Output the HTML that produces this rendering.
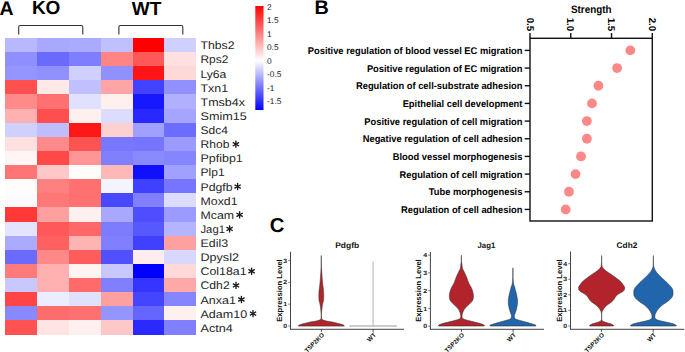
<!DOCTYPE html>
<html><head><meta charset="utf-8"><style>
html,body{margin:0;padding:0;background:#fff;width:685px;height:352px;overflow:hidden}
svg{display:block}
</style></head><body>
<svg width="685" height="352" viewBox="0 0 685 352" text-rendering="geometricPrecision">
<rect width="685" height="352" fill="#fff"/>
<g shape-rendering="crispEdges">
<rect x="5.00" y="38.00" width="31.93" height="14.17" fill="#b8b8ff"/>
<rect x="36.88" y="38.00" width="31.93" height="14.17" fill="#a8a8ff"/>
<rect x="68.77" y="38.00" width="31.93" height="14.17" fill="#aaaaff"/>
<rect x="100.65" y="38.00" width="31.93" height="14.17" fill="#c0c0ff"/>
<rect x="132.53" y="38.00" width="31.93" height="14.17" fill="#ff0000"/>
<rect x="164.42" y="38.00" width="31.93" height="14.17" fill="#d0d0ff"/>
<rect x="5.00" y="52.12" width="31.93" height="14.17" fill="#8f8fff"/>
<rect x="36.88" y="52.12" width="31.93" height="14.17" fill="#6a6aff"/>
<rect x="68.77" y="52.12" width="31.93" height="14.17" fill="#7e7eff"/>
<rect x="100.65" y="52.12" width="31.93" height="14.17" fill="#ff8585"/>
<rect x="132.53" y="52.12" width="31.93" height="14.17" fill="#ff5858"/>
<rect x="164.42" y="52.12" width="31.93" height="14.17" fill="#ffe0e0"/>
<rect x="5.00" y="66.24" width="31.93" height="14.17" fill="#9595ff"/>
<rect x="36.88" y="66.24" width="31.93" height="14.17" fill="#9090ff"/>
<rect x="68.77" y="66.24" width="31.93" height="14.17" fill="#d0d0ff"/>
<rect x="100.65" y="66.24" width="31.93" height="14.17" fill="#9090ff"/>
<rect x="132.53" y="66.24" width="31.93" height="14.17" fill="#ff1515"/>
<rect x="164.42" y="66.24" width="31.93" height="14.17" fill="#ffd8d8"/>
<rect x="5.00" y="80.36" width="31.93" height="14.17" fill="#ff5050"/>
<rect x="36.88" y="80.36" width="31.93" height="14.17" fill="#ffe8e8"/>
<rect x="68.77" y="80.36" width="31.93" height="14.17" fill="#c0c0ff"/>
<rect x="100.65" y="80.36" width="31.93" height="14.17" fill="#ffa5a5"/>
<rect x="132.53" y="80.36" width="31.93" height="14.17" fill="#4242ff"/>
<rect x="164.42" y="80.36" width="31.93" height="14.17" fill="#9090ff"/>
<rect x="5.00" y="94.48" width="31.93" height="14.17" fill="#ff8a8a"/>
<rect x="36.88" y="94.48" width="31.93" height="14.17" fill="#ff7070"/>
<rect x="68.77" y="94.48" width="31.93" height="14.17" fill="#e0e0ff"/>
<rect x="100.65" y="94.48" width="31.93" height="14.17" fill="#fff0f0"/>
<rect x="132.53" y="94.48" width="31.93" height="14.17" fill="#1818ff"/>
<rect x="164.42" y="94.48" width="31.93" height="14.17" fill="#b0b0ff"/>
<rect x="5.00" y="108.60" width="31.93" height="14.17" fill="#ffb0b0"/>
<rect x="36.88" y="108.60" width="31.93" height="14.17" fill="#ff4e4e"/>
<rect x="68.77" y="108.60" width="31.93" height="14.17" fill="#fff0f0"/>
<rect x="100.65" y="108.60" width="31.93" height="14.17" fill="#dcdcff"/>
<rect x="132.53" y="108.60" width="31.93" height="14.17" fill="#2828ff"/>
<rect x="164.42" y="108.60" width="31.93" height="14.17" fill="#a5a5ff"/>
<rect x="5.00" y="122.71" width="31.93" height="14.17" fill="#d0d0ff"/>
<rect x="36.88" y="122.71" width="31.93" height="14.17" fill="#bdbdff"/>
<rect x="68.77" y="122.71" width="31.93" height="14.17" fill="#ff1818"/>
<rect x="100.65" y="122.71" width="31.93" height="14.17" fill="#ffd0d0"/>
<rect x="132.53" y="122.71" width="31.93" height="14.17" fill="#a0a0ff"/>
<rect x="164.42" y="122.71" width="31.93" height="14.17" fill="#6c6cff"/>
<rect x="5.00" y="136.83" width="31.93" height="14.17" fill="#ffe0e0"/>
<rect x="36.88" y="136.83" width="31.93" height="14.17" fill="#ff8a8a"/>
<rect x="68.77" y="136.83" width="31.93" height="14.17" fill="#ff5252"/>
<rect x="100.65" y="136.83" width="31.93" height="14.17" fill="#7878ff"/>
<rect x="132.53" y="136.83" width="31.93" height="14.17" fill="#7575ff"/>
<rect x="164.42" y="136.83" width="31.93" height="14.17" fill="#9a9aff"/>
<rect x="5.00" y="150.95" width="31.93" height="14.17" fill="#fff5f5"/>
<rect x="36.88" y="150.95" width="31.93" height="14.17" fill="#ff4848"/>
<rect x="68.77" y="150.95" width="31.93" height="14.17" fill="#ff9595"/>
<rect x="100.65" y="150.95" width="31.93" height="14.17" fill="#8080ff"/>
<rect x="132.53" y="150.95" width="31.93" height="14.17" fill="#8a8aff"/>
<rect x="164.42" y="150.95" width="31.93" height="14.17" fill="#8585ff"/>
<rect x="5.00" y="165.07" width="31.93" height="14.17" fill="#ff7575"/>
<rect x="36.88" y="165.07" width="31.93" height="14.17" fill="#ffc8c8"/>
<rect x="68.77" y="165.07" width="31.93" height="14.17" fill="#fffcfa"/>
<rect x="100.65" y="165.07" width="31.93" height="14.17" fill="#ffb8b8"/>
<rect x="132.53" y="165.07" width="31.93" height="14.17" fill="#1010ff"/>
<rect x="164.42" y="165.07" width="31.93" height="14.17" fill="#a0a0ff"/>
<rect x="5.00" y="179.19" width="31.93" height="14.17" fill="#fffcfc"/>
<rect x="36.88" y="179.19" width="31.93" height="14.17" fill="#ff8080"/>
<rect x="68.77" y="179.19" width="31.93" height="14.17" fill="#ff7070"/>
<rect x="100.65" y="179.19" width="31.93" height="14.17" fill="#f4f4ff"/>
<rect x="132.53" y="179.19" width="31.93" height="14.17" fill="#4040ff"/>
<rect x="164.42" y="179.19" width="31.93" height="14.17" fill="#7575ff"/>
<rect x="5.00" y="193.31" width="31.93" height="14.17" fill="#fbfbff"/>
<rect x="36.88" y="193.31" width="31.93" height="14.17" fill="#ff7878"/>
<rect x="68.77" y="193.31" width="31.93" height="14.17" fill="#ff7070"/>
<rect x="100.65" y="193.31" width="31.93" height="14.17" fill="#4848ff"/>
<rect x="132.53" y="193.31" width="31.93" height="14.17" fill="#8080ff"/>
<rect x="164.42" y="193.31" width="31.93" height="14.17" fill="#dcdcff"/>
<rect x="5.00" y="207.43" width="31.93" height="14.17" fill="#ff3838"/>
<rect x="36.88" y="207.43" width="31.93" height="14.17" fill="#ffa0a0"/>
<rect x="68.77" y="207.43" width="31.93" height="14.17" fill="#fff0f0"/>
<rect x="100.65" y="207.43" width="31.93" height="14.17" fill="#a8a8ff"/>
<rect x="132.53" y="207.43" width="31.93" height="14.17" fill="#4e4eff"/>
<rect x="164.42" y="207.43" width="31.93" height="14.17" fill="#9a9aff"/>
<rect x="5.00" y="221.55" width="31.93" height="14.17" fill="#e4e4ff"/>
<rect x="36.88" y="221.55" width="31.93" height="14.17" fill="#ff5858"/>
<rect x="68.77" y="221.55" width="31.93" height="14.17" fill="#ff6868"/>
<rect x="100.65" y="221.55" width="31.93" height="14.17" fill="#7c7cff"/>
<rect x="132.53" y="221.55" width="31.93" height="14.17" fill="#5858ff"/>
<rect x="164.42" y="221.55" width="31.93" height="14.17" fill="#b5b5ff"/>
<rect x="5.00" y="235.67" width="31.93" height="14.17" fill="#aaaaff"/>
<rect x="36.88" y="235.67" width="31.93" height="14.17" fill="#ff6060"/>
<rect x="68.77" y="235.67" width="31.93" height="14.17" fill="#ffb4b4"/>
<rect x="100.65" y="235.67" width="31.93" height="14.17" fill="#8080ff"/>
<rect x="132.53" y="235.67" width="31.93" height="14.17" fill="#4040ff"/>
<rect x="164.42" y="235.67" width="31.93" height="14.17" fill="#ffa0a0"/>
<rect x="5.00" y="249.79" width="31.93" height="14.17" fill="#6a6aff"/>
<rect x="36.88" y="249.79" width="31.93" height="14.17" fill="#ff8888"/>
<rect x="68.77" y="249.79" width="31.93" height="14.17" fill="#ff5c5c"/>
<rect x="100.65" y="249.79" width="31.93" height="14.17" fill="#5050ff"/>
<rect x="132.53" y="249.79" width="31.93" height="14.17" fill="#ffecec"/>
<rect x="164.42" y="249.79" width="31.93" height="14.17" fill="#d8d8ff"/>
<rect x="5.00" y="263.90" width="31.93" height="14.17" fill="#ff7a7a"/>
<rect x="36.88" y="263.90" width="31.93" height="14.17" fill="#ffb0b0"/>
<rect x="68.77" y="263.90" width="31.93" height="14.17" fill="#fff4f2"/>
<rect x="100.65" y="263.90" width="31.93" height="14.17" fill="#c8c8ff"/>
<rect x="132.53" y="263.90" width="31.93" height="14.17" fill="#0000ff"/>
<rect x="164.42" y="263.90" width="31.93" height="14.17" fill="#ffd8d8"/>
<rect x="5.00" y="278.02" width="31.93" height="14.17" fill="#c8c8ff"/>
<rect x="36.88" y="278.02" width="31.93" height="14.17" fill="#ffb0b0"/>
<rect x="68.77" y="278.02" width="31.93" height="14.17" fill="#ff6a6a"/>
<rect x="100.65" y="278.02" width="31.93" height="14.17" fill="#8080ff"/>
<rect x="132.53" y="278.02" width="31.93" height="14.17" fill="#3535ff"/>
<rect x="164.42" y="278.02" width="31.93" height="14.17" fill="#ffa8a8"/>
<rect x="5.00" y="292.14" width="31.93" height="14.17" fill="#ff4545"/>
<rect x="36.88" y="292.14" width="31.93" height="14.17" fill="#ececff"/>
<rect x="68.77" y="292.14" width="31.93" height="14.17" fill="#e0e0ff"/>
<rect x="100.65" y="292.14" width="31.93" height="14.17" fill="#ffa0a0"/>
<rect x="132.53" y="292.14" width="31.93" height="14.17" fill="#4545ff"/>
<rect x="164.42" y="292.14" width="31.93" height="14.17" fill="#8585ff"/>
<rect x="5.00" y="306.26" width="31.93" height="14.17" fill="#8888ff"/>
<rect x="36.88" y="306.26" width="31.93" height="14.17" fill="#ff6c6c"/>
<rect x="68.77" y="306.26" width="31.93" height="14.17" fill="#ff7070"/>
<rect x="100.65" y="306.26" width="31.93" height="14.17" fill="#9595ff"/>
<rect x="132.53" y="306.26" width="31.93" height="14.17" fill="#6565ff"/>
<rect x="164.42" y="306.26" width="31.93" height="14.17" fill="#fff0f0"/>
<rect x="5.00" y="320.38" width="31.93" height="14.17" fill="#ff5252"/>
<rect x="36.88" y="320.38" width="31.93" height="14.17" fill="#ffe4e4"/>
<rect x="68.77" y="320.38" width="31.93" height="14.17" fill="#fff0f0"/>
<rect x="100.65" y="320.38" width="31.93" height="14.17" fill="#ffc8c8"/>
<rect x="132.53" y="320.38" width="31.93" height="14.17" fill="#2a2aff"/>
<rect x="164.42" y="320.38" width="31.93" height="14.17" fill="#8080ff"/>
</g>
<text x="200.5" y="49.36" font-family="Liberation Sans, sans-serif" font-size="11.0" fill="#262626" textLength="34.01" lengthAdjust="spacingAndGlyphs">Thbs2</text>
<text x="200.5" y="63.48" font-family="Liberation Sans, sans-serif" font-size="11.0" fill="#262626" textLength="27.85" lengthAdjust="spacingAndGlyphs">Rps2</text>
<text x="200.5" y="77.60" font-family="Liberation Sans, sans-serif" font-size="11.0" fill="#262626" textLength="25.83" lengthAdjust="spacingAndGlyphs">Ly6a</text>
<text x="200.5" y="91.72" font-family="Liberation Sans, sans-serif" font-size="11.0" fill="#262626" textLength="27.69" lengthAdjust="spacingAndGlyphs">Txn1</text>
<text x="200.5" y="105.84" font-family="Liberation Sans, sans-serif" font-size="11.0" fill="#262626" textLength="44.45" lengthAdjust="spacingAndGlyphs">Tmsb4x</text>
<text x="200.5" y="119.95" font-family="Liberation Sans, sans-serif" font-size="11.0" fill="#262626" textLength="46.29" lengthAdjust="spacingAndGlyphs">Smim15</text>
<text x="200.5" y="134.07" font-family="Liberation Sans, sans-serif" font-size="11.0" fill="#262626" textLength="27.50" lengthAdjust="spacingAndGlyphs">Sdc4</text>
<text x="200.5" y="148.19" font-family="Liberation Sans, sans-serif" font-size="11.0" fill="#262626" textLength="28.84" lengthAdjust="spacingAndGlyphs">Rhob</text>
<g transform="translate(235.90,144.19)" stroke="#1a1a1a" stroke-width="1.35" stroke-linecap="butt"><line x1="0" y1="-3.65" x2="0" y2="3.65"/><line x1="-3.16" y1="-1.83" x2="3.16" y2="1.83"/><line x1="-3.16" y1="1.83" x2="3.16" y2="-1.83"/></g>
<text x="200.5" y="162.31" font-family="Liberation Sans, sans-serif" font-size="11.0" fill="#262626" textLength="42.26" lengthAdjust="spacingAndGlyphs">Ppfibp1</text>
<text x="200.5" y="176.43" font-family="Liberation Sans, sans-serif" font-size="11.0" fill="#262626" textLength="24.10" lengthAdjust="spacingAndGlyphs">Plp1</text>
<text x="200.5" y="190.55" font-family="Liberation Sans, sans-serif" font-size="11.0" fill="#262626" textLength="32.02" lengthAdjust="spacingAndGlyphs">Pdgfb</text>
<g transform="translate(237.60,186.55)" stroke="#1a1a1a" stroke-width="1.35" stroke-linecap="butt"><line x1="0" y1="-3.65" x2="0" y2="3.65"/><line x1="-3.16" y1="-1.83" x2="3.16" y2="1.83"/><line x1="-3.16" y1="1.83" x2="3.16" y2="-1.83"/></g>
<text x="200.5" y="204.67" font-family="Liberation Sans, sans-serif" font-size="11.0" fill="#262626" textLength="37.03" lengthAdjust="spacingAndGlyphs">Moxd1</text>
<text x="200.5" y="218.79" font-family="Liberation Sans, sans-serif" font-size="11.0" fill="#262626" textLength="33.60" lengthAdjust="spacingAndGlyphs">Mcam</text>
<g transform="translate(239.60,214.79)" stroke="#1a1a1a" stroke-width="1.35" stroke-linecap="butt"><line x1="0" y1="-3.65" x2="0" y2="3.65"/><line x1="-3.16" y1="-1.83" x2="3.16" y2="1.83"/><line x1="-3.16" y1="1.83" x2="3.16" y2="-1.83"/></g>
<text x="200.5" y="232.91" font-family="Liberation Sans, sans-serif" font-size="11.0" fill="#262626" textLength="24.40" lengthAdjust="spacingAndGlyphs">Jag1</text>
<g transform="translate(229.60,228.91)" stroke="#1a1a1a" stroke-width="1.35" stroke-linecap="butt"><line x1="0" y1="-3.65" x2="0" y2="3.65"/><line x1="-3.16" y1="-1.83" x2="3.16" y2="1.83"/><line x1="-3.16" y1="1.83" x2="3.16" y2="-1.83"/></g>
<text x="200.5" y="247.03" font-family="Liberation Sans, sans-serif" font-size="11.0" fill="#262626" textLength="27.54" lengthAdjust="spacingAndGlyphs">Edil3</text>
<text x="200.5" y="261.15" font-family="Liberation Sans, sans-serif" font-size="11.0" fill="#262626" textLength="38.43" lengthAdjust="spacingAndGlyphs">Dpysl2</text>
<text x="200.5" y="275.26" font-family="Liberation Sans, sans-serif" font-size="11.0" fill="#262626" textLength="46.03" lengthAdjust="spacingAndGlyphs">Col18a1</text>
<g transform="translate(251.60,271.26)" stroke="#1a1a1a" stroke-width="1.35" stroke-linecap="butt"><line x1="0" y1="-3.65" x2="0" y2="3.65"/><line x1="-3.16" y1="-1.83" x2="3.16" y2="1.83"/><line x1="-3.16" y1="1.83" x2="3.16" y2="-1.83"/></g>
<text x="200.5" y="289.38" font-family="Liberation Sans, sans-serif" font-size="11.0" fill="#262626" textLength="29.16" lengthAdjust="spacingAndGlyphs">Cdh2</text>
<g transform="translate(236.00,285.38)" stroke="#1a1a1a" stroke-width="1.35" stroke-linecap="butt"><line x1="0" y1="-3.65" x2="0" y2="3.65"/><line x1="-3.16" y1="-1.83" x2="3.16" y2="1.83"/><line x1="-3.16" y1="1.83" x2="3.16" y2="-1.83"/></g>
<text x="200.5" y="303.50" font-family="Liberation Sans, sans-serif" font-size="11.0" fill="#262626" textLength="35.38" lengthAdjust="spacingAndGlyphs">Anxa1</text>
<g transform="translate(241.40,299.50)" stroke="#1a1a1a" stroke-width="1.35" stroke-linecap="butt"><line x1="0" y1="-3.65" x2="0" y2="3.65"/><line x1="-3.16" y1="-1.83" x2="3.16" y2="1.83"/><line x1="-3.16" y1="1.83" x2="3.16" y2="-1.83"/></g>
<text x="200.5" y="317.62" font-family="Liberation Sans, sans-serif" font-size="11.0" fill="#262626" textLength="46.60" lengthAdjust="spacingAndGlyphs">Adam10</text>
<g transform="translate(253.00,313.62)" stroke="#1a1a1a" stroke-width="1.35" stroke-linecap="butt"><line x1="0" y1="-3.65" x2="0" y2="3.65"/><line x1="-3.16" y1="-1.83" x2="3.16" y2="1.83"/><line x1="-3.16" y1="1.83" x2="3.16" y2="-1.83"/></g>
<text x="200.5" y="331.74" font-family="Liberation Sans, sans-serif" font-size="11.0" fill="#262626" textLength="32.24" lengthAdjust="spacingAndGlyphs">Actn4</text>
<path d="M18.7,34.6 L18.7,27.0 Q18.7,25.5 20.2,25.5 L81.3,25.5 Q82.8,25.5 82.8,27.0 L82.8,34.6" fill="none" stroke="#333" stroke-width="1.1"/>
<path d="M118.9,34.6 L118.9,27.0 Q118.9,25.5 120.4,25.5 L181.3,25.5 Q182.8,25.5 182.8,27.0 L182.8,34.6" fill="none" stroke="#333" stroke-width="1.1"/>
<text x="-0.6" y="14.5" font-family="Liberation Sans, sans-serif" font-weight="bold" font-size="19.5" fill="#000">A</text>
<text x="31.9" y="13.9" font-family="Liberation Sans, sans-serif" font-weight="bold" font-size="19" fill="#000">KO</text>
<text x="131.8" y="14.6" font-family="Liberation Sans, sans-serif" font-weight="bold" font-size="19" fill="#000">WT</text>
<defs><linearGradient id="cb" x1="0" y1="0" x2="0" y2="1"><stop offset="0" stop-color="#ff0000"/><stop offset="0.525" stop-color="#ffffff"/><stop offset="1" stop-color="#0000ff"/></linearGradient></defs>
<rect x="255.3" y="6" width="8.2" height="104" fill="url(#cb)"/>
<text x="267" y="10.1" font-family="Liberation Sans, sans-serif" font-size="8.3" fill="#222">2</text>
<text x="267" y="23.4" font-family="Liberation Sans, sans-serif" font-size="8.3" fill="#222">1.5</text>
<text x="267" y="36.7" font-family="Liberation Sans, sans-serif" font-size="8.3" fill="#222">1</text>
<text x="267" y="50.3" font-family="Liberation Sans, sans-serif" font-size="8.3" fill="#222">0.5</text>
<text x="267" y="63.6" font-family="Liberation Sans, sans-serif" font-size="8.3" fill="#222">0</text>
<text x="267" y="77.3" font-family="Liberation Sans, sans-serif" font-size="8.3" fill="#222">-0.5</text>
<text x="267" y="91.1" font-family="Liberation Sans, sans-serif" font-size="8.3" fill="#222">-1</text>
<text x="267" y="104.4" font-family="Liberation Sans, sans-serif" font-size="8.3" fill="#222">-1.5</text>
<text x="314.5" y="13.9" font-family="Liberation Sans, sans-serif" font-weight="bold" font-size="19.8" fill="#000">B</text>
<text x="571.0" y="12.6" font-family="Liberation Sans, sans-serif" font-weight="bold" font-size="10.8" fill="#000" textLength="40.49" lengthAdjust="spacingAndGlyphs">Strength</text>
<rect x="530.0" y="38.3" width="122.29999999999995" height="182.7" fill="none" stroke="#111" stroke-width="1.4"/>
<line x1="530.00" y1="38.3" x2="530.00" y2="33.099999999999994" stroke="#111" stroke-width="1.4"/>
<text transform="translate(526.50,31.299999999999997) rotate(90)" text-anchor="end" font-family="Liberation Sans, sans-serif" font-weight="bold" font-size="9.8" fill="#000">0.5</text>
<line x1="570.77" y1="38.3" x2="570.77" y2="33.099999999999994" stroke="#111" stroke-width="1.4"/>
<text transform="translate(567.27,31.299999999999997) rotate(90)" text-anchor="end" font-family="Liberation Sans, sans-serif" font-weight="bold" font-size="9.8" fill="#000">1.0</text>
<line x1="611.53" y1="38.3" x2="611.53" y2="33.099999999999994" stroke="#111" stroke-width="1.4"/>
<text transform="translate(608.03,31.299999999999997) rotate(90)" text-anchor="end" font-family="Liberation Sans, sans-serif" font-weight="bold" font-size="9.8" fill="#000">1.5</text>
<line x1="652.30" y1="38.3" x2="652.30" y2="33.099999999999994" stroke="#111" stroke-width="1.4"/>
<text transform="translate(648.80,31.299999999999997) rotate(90)" text-anchor="end" font-family="Liberation Sans, sans-serif" font-weight="bold" font-size="9.8" fill="#000">2.0</text>
<line x1="524.7" y1="50.40" x2="530.0" y2="50.40" stroke="#111" stroke-width="1.4"/>
<text x="522.4" y="54.10" text-anchor="end" font-family="Liberation Sans, sans-serif" font-weight="bold" font-size="9.75" fill="#000" textLength="214.63" lengthAdjust="spacingAndGlyphs">Positive regulation of blood vessel EC migration</text>
<circle cx="630.3" cy="50.40" r="4.9" fill="#fd8888"/>
<line x1="524.7" y1="68.07" x2="530.0" y2="68.07" stroke="#111" stroke-width="1.4"/>
<text x="522.4" y="71.77" text-anchor="end" font-family="Liberation Sans, sans-serif" font-weight="bold" font-size="9.75" fill="#000" textLength="155.52" lengthAdjust="spacingAndGlyphs">Positive regulation of EC migration</text>
<circle cx="617.1" cy="68.07" r="4.9" fill="#fd8888"/>
<line x1="524.7" y1="85.74" x2="530.0" y2="85.74" stroke="#111" stroke-width="1.4"/>
<text x="522.4" y="89.44" text-anchor="end" font-family="Liberation Sans, sans-serif" font-weight="bold" font-size="9.75" fill="#000" textLength="166.41" lengthAdjust="spacingAndGlyphs">Regulation of cell-substrate adhesion</text>
<circle cx="598.4" cy="85.74" r="4.9" fill="#fd8888"/>
<line x1="524.7" y1="103.41" x2="530.0" y2="103.41" stroke="#111" stroke-width="1.4"/>
<text x="522.4" y="107.11" text-anchor="end" font-family="Liberation Sans, sans-serif" font-weight="bold" font-size="9.75" fill="#000" textLength="119.77" lengthAdjust="spacingAndGlyphs">Epithelial cell development</text>
<circle cx="592.0" cy="103.41" r="4.9" fill="#fd8888"/>
<line x1="524.7" y1="121.08" x2="530.0" y2="121.08" stroke="#111" stroke-width="1.4"/>
<text x="522.4" y="124.78" text-anchor="end" font-family="Liberation Sans, sans-serif" font-weight="bold" font-size="9.75" fill="#000" textLength="158.12" lengthAdjust="spacingAndGlyphs">Positive regulation of cell migration</text>
<circle cx="586.9" cy="121.08" r="4.9" fill="#fd8888"/>
<line x1="524.7" y1="138.75" x2="530.0" y2="138.75" stroke="#111" stroke-width="1.4"/>
<text x="522.4" y="142.45" text-anchor="end" font-family="Liberation Sans, sans-serif" font-weight="bold" font-size="9.75" fill="#000" textLength="159.68" lengthAdjust="spacingAndGlyphs">Negative regulation of cell adhesion</text>
<circle cx="586.9" cy="138.75" r="4.9" fill="#fd8888"/>
<line x1="524.7" y1="156.42" x2="530.0" y2="156.42" stroke="#111" stroke-width="1.4"/>
<text x="522.4" y="160.12" text-anchor="end" font-family="Liberation Sans, sans-serif" font-weight="bold" font-size="9.75" fill="#000" textLength="129.62" lengthAdjust="spacingAndGlyphs">Blood vessel morphogenesis</text>
<circle cx="581.0" cy="156.42" r="4.9" fill="#fd8888"/>
<line x1="524.7" y1="174.09" x2="530.0" y2="174.09" stroke="#111" stroke-width="1.4"/>
<text x="522.4" y="177.79" text-anchor="end" font-family="Liberation Sans, sans-serif" font-weight="bold" font-size="9.75" fill="#000" textLength="122.85" lengthAdjust="spacingAndGlyphs">Regulation of cell migration</text>
<circle cx="575.5" cy="174.09" r="4.9" fill="#fd8888"/>
<line x1="524.7" y1="191.76" x2="530.0" y2="191.76" stroke="#111" stroke-width="1.4"/>
<text x="522.4" y="195.46" text-anchor="end" font-family="Liberation Sans, sans-serif" font-weight="bold" font-size="9.75" fill="#000" textLength="93.66" lengthAdjust="spacingAndGlyphs">Tube morphogenesis</text>
<circle cx="569.0" cy="191.76" r="4.9" fill="#fd8888"/>
<line x1="524.7" y1="209.43" x2="530.0" y2="209.43" stroke="#111" stroke-width="1.4"/>
<text x="522.4" y="213.13" text-anchor="end" font-family="Liberation Sans, sans-serif" font-weight="bold" font-size="9.75" fill="#000" textLength="121.31" lengthAdjust="spacingAndGlyphs">Regulation of cell adhesion</text>
<circle cx="565.7" cy="209.43" r="4.9" fill="#fd8888"/>
<text x="269.8" y="232.0" font-family="Liberation Sans, sans-serif" font-weight="bold" font-size="20.2" fill="#000">C</text>
<text x="335.2" y="247.75" font-family="Liberation Sans, sans-serif" font-weight="bold" font-size="8.1" fill="#111" textLength="24.04" lengthAdjust="spacingAndGlyphs">Pdgfb</text>
<line x1="290.5" y1="251.8" x2="290.5" y2="329.3" stroke="#444" stroke-width="1.0"/>
<line x1="290.0" y1="329.3" x2="404" y2="329.3" stroke="#444" stroke-width="1.0"/>
<line x1="288.3" y1="325.90" x2="290.5" y2="325.90" stroke="#555" stroke-width="0.8"/>
<text x="287.2" y="328.00" text-anchor="end" font-family="Liberation Sans, sans-serif" font-weight="bold" font-size="6.0" fill="#1a1a1a" textLength="3.90" lengthAdjust="spacingAndGlyphs">0</text>
<line x1="288.3" y1="304.13" x2="290.5" y2="304.13" stroke="#555" stroke-width="0.8"/>
<text x="287.2" y="306.23" text-anchor="end" font-family="Liberation Sans, sans-serif" font-weight="bold" font-size="6.0" fill="#1a1a1a" textLength="3.90" lengthAdjust="spacingAndGlyphs">1</text>
<line x1="288.3" y1="282.36" x2="290.5" y2="282.36" stroke="#555" stroke-width="0.8"/>
<text x="287.2" y="284.46" text-anchor="end" font-family="Liberation Sans, sans-serif" font-weight="bold" font-size="6.0" fill="#1a1a1a" textLength="3.90" lengthAdjust="spacingAndGlyphs">2</text>
<line x1="288.3" y1="260.59" x2="290.5" y2="260.59" stroke="#555" stroke-width="0.8"/>
<text x="287.2" y="262.69" text-anchor="end" font-family="Liberation Sans, sans-serif" font-weight="bold" font-size="6.0" fill="#1a1a1a" textLength="3.90" lengthAdjust="spacingAndGlyphs">3</text>
<line x1="321.4" y1="329.3" x2="321.4" y2="331.8" stroke="#333" stroke-width="0.9"/>
<text transform="translate(324.70,335.4) rotate(-45)" text-anchor="end" font-family="Liberation Sans, sans-serif" font-weight="bold" font-size="6.2" fill="#111">TSP2KO</text>
<line x1="373.1" y1="329.3" x2="373.1" y2="331.8" stroke="#333" stroke-width="0.9"/>
<text transform="translate(376.40,335.4) rotate(-45)" text-anchor="end" font-family="Liberation Sans, sans-serif" font-weight="bold" font-size="6.2" fill="#111">WT</text>
<text transform="translate(281.8,290.5) rotate(-90)" text-anchor="middle" font-family="Liberation Sans, sans-serif" font-weight="bold" font-size="7.6" fill="#111">Expression Level</text>
<path d="M321.31,255.60 321.31,255.95 321.31,256.30 321.31,256.65 321.31,257.00 321.31,257.35 321.31,257.70 321.31,258.05 321.32,258.40 321.32,258.75 321.32,259.10 321.32,259.45 321.32,259.80 321.33,260.15 321.33,260.50 321.33,260.85 321.33,261.20 321.34,261.55 321.34,261.90 321.34,262.25 321.35,262.60 321.36,262.95 321.36,263.30 321.37,263.65 321.39,264.00 321.40,264.35 321.41,264.70 321.43,265.05 321.44,265.40 321.46,265.75 321.48,266.10 321.49,266.45 321.51,266.80 321.53,267.15 321.54,267.50 321.56,267.85 321.58,268.20 321.59,268.55 321.61,268.90 321.63,269.25 321.64,269.60 321.66,269.95 321.68,270.30 321.70,270.65 321.72,271.00 321.74,271.35 321.76,271.70 321.78,272.05 321.80,272.40 321.82,272.75 321.84,273.10 321.87,273.45 321.89,273.80 321.91,274.15 321.93,274.50 321.96,274.85 321.98,275.20 322.00,275.55 322.03,275.90 322.05,276.25 322.07,276.60 322.10,276.95 322.12,277.30 322.15,277.65 322.18,278.00 322.20,278.35 322.23,278.70 322.26,279.05 322.28,279.40 322.31,279.75 322.34,280.10 322.37,280.45 322.40,280.80 322.43,281.15 322.46,281.50 322.49,281.85 322.52,282.20 322.56,282.55 322.59,282.90 322.62,283.25 322.66,283.60 322.69,283.95 322.73,284.30 322.77,284.65 322.81,285.00 322.86,285.35 322.91,285.70 322.95,286.05 323.00,286.40 323.05,286.75 323.09,287.10 323.14,287.45 323.18,287.80 323.22,288.15 323.26,288.50 323.30,288.85 323.34,289.20 323.38,289.55 323.42,289.90 323.46,290.25 323.50,290.60 323.53,290.95 323.56,291.30 323.58,291.65 323.60,292.00 323.61,292.35 323.63,292.70 323.64,293.05 323.65,293.40 323.66,293.75 323.67,294.10 323.68,294.45 323.69,294.80 323.69,295.15 323.70,295.50 323.70,295.85 323.70,296.20 323.70,296.55 323.69,296.90 323.69,297.25 323.68,297.60 323.67,297.95 323.66,298.30 323.65,298.65 323.64,299.00 323.63,299.35 323.61,299.70 323.60,300.05 323.56,300.40 323.51,300.75 323.43,301.10 323.33,301.45 323.23,301.80 323.12,302.15 323.01,302.50 322.90,302.85 322.79,303.20 322.70,303.55 322.62,303.90 322.56,304.25 322.50,304.60 322.44,304.95 322.39,305.30 322.33,305.65 322.29,306.00 322.24,306.35 322.19,306.70 322.15,307.05 322.11,307.40 322.06,307.75 322.02,308.10 321.98,308.45 321.94,308.80 321.90,309.15 321.86,309.50 321.82,309.85 321.79,310.20 321.75,310.55 321.72,310.90 321.69,311.25 321.66,311.60 321.63,311.95 321.60,312.30 321.57,312.65 321.55,313.00 321.52,313.35 321.49,313.70 321.47,314.05 321.45,314.40 321.43,314.75 321.41,315.10 321.40,315.45 321.39,315.80 321.39,316.15 321.40,316.50 321.41,316.85 321.43,317.20 321.46,317.55 321.49,317.90 321.53,318.25 321.59,318.60 321.76,318.95 322.03,319.30 322.42,319.65 323.00,320.00 323.77,320.35 324.98,320.70 326.48,321.05 328.31,321.40 330.49,321.75 332.39,322.10 333.99,322.45 335.47,322.80 336.91,323.15 338.30,323.50 339.62,323.85 340.94,324.20 342.21,324.55 343.12,324.90 343.77,325.25 344.20,325.60 344.20,325.60 L344.20,326.1 L298.40,326.1 L298.40,325.60 298.40,325.60 298.83,325.25 299.48,324.90 300.39,324.55 301.66,324.20 302.98,323.85 304.30,323.50 305.69,323.15 307.13,322.80 308.61,322.45 310.21,322.10 312.11,321.75 314.29,321.40 316.12,321.05 317.62,320.70 318.83,320.35 319.60,320.00 320.18,319.65 320.57,319.30 320.84,318.95 321.01,318.60 321.07,318.25 321.11,317.90 321.14,317.55 321.17,317.20 321.19,316.85 321.20,316.50 321.21,316.15 321.21,315.80 321.20,315.45 321.19,315.10 321.17,314.75 321.15,314.40 321.13,314.05 321.11,313.70 321.08,313.35 321.05,313.00 321.03,312.65 321.00,312.30 320.97,311.95 320.94,311.60 320.91,311.25 320.88,310.90 320.85,310.55 320.81,310.20 320.78,309.85 320.74,309.50 320.70,309.15 320.66,308.80 320.62,308.45 320.58,308.10 320.54,307.75 320.49,307.40 320.45,307.05 320.41,306.70 320.36,306.35 320.31,306.00 320.27,305.65 320.21,305.30 320.16,304.95 320.10,304.60 320.04,304.25 319.98,303.90 319.90,303.55 319.81,303.20 319.70,302.85 319.59,302.50 319.48,302.15 319.37,301.80 319.27,301.45 319.17,301.10 319.09,300.75 319.04,300.40 319.00,300.05 318.99,299.70 318.97,299.35 318.96,299.00 318.95,298.65 318.94,298.30 318.93,297.95 318.92,297.60 318.91,297.25 318.91,296.90 318.90,296.55 318.90,296.20 318.90,295.85 318.90,295.50 318.91,295.15 318.91,294.80 318.92,294.45 318.93,294.10 318.94,293.75 318.95,293.40 318.96,293.05 318.97,292.70 318.99,292.35 319.00,292.00 319.02,291.65 319.04,291.30 319.07,290.95 319.10,290.60 319.14,290.25 319.18,289.90 319.22,289.55 319.26,289.20 319.30,288.85 319.34,288.50 319.38,288.15 319.42,287.80 319.46,287.45 319.51,287.10 319.55,286.75 319.60,286.40 319.65,286.05 319.69,285.70 319.74,285.35 319.79,285.00 319.83,284.65 319.87,284.30 319.91,283.95 319.94,283.60 319.98,283.25 320.01,282.90 320.04,282.55 320.08,282.20 320.11,281.85 320.14,281.50 320.17,281.15 320.20,280.80 320.23,280.45 320.26,280.10 320.29,279.75 320.32,279.40 320.34,279.05 320.37,278.70 320.40,278.35 320.42,278.00 320.45,277.65 320.48,277.30 320.50,276.95 320.53,276.60 320.55,276.25 320.57,275.90 320.60,275.55 320.62,275.20 320.64,274.85 320.67,274.50 320.69,274.15 320.71,273.80 320.73,273.45 320.76,273.10 320.78,272.75 320.80,272.40 320.82,272.05 320.84,271.70 320.86,271.35 320.88,271.00 320.90,270.65 320.92,270.30 320.94,269.95 320.96,269.60 320.97,269.25 320.99,268.90 321.01,268.55 321.02,268.20 321.04,267.85 321.06,267.50 321.07,267.15 321.09,266.80 321.11,266.45 321.12,266.10 321.14,265.75 321.16,265.40 321.17,265.05 321.19,264.70 321.20,264.35 321.21,264.00 321.23,263.65 321.24,263.30 321.24,262.95 321.25,262.60 321.26,262.25 321.26,261.90 321.26,261.55 321.27,261.20 321.27,260.85 321.27,260.50 321.27,260.15 321.28,259.80 321.28,259.45 321.28,259.10 321.28,258.75 321.28,258.40 321.29,258.05 321.29,257.70 321.29,257.35 321.29,257.00 321.29,256.65 321.29,256.30 321.29,255.95 321.29,255.60 Z" fill="#b2232b" stroke="#333" stroke-width="0.6" stroke-linejoin="round"/>
<rect x="349.8" y="325.4" width="46.6" height="1.3" fill="#bdbdbd" stroke="#c6c6c6" stroke-width="0.6"/>
<line x1="373.1" y1="261.6" x2="373.1" y2="326" stroke="#c4c4c4" stroke-width="1.3"/>
<text x="477.5" y="247.75" font-family="Liberation Sans, sans-serif" font-weight="bold" font-size="8.1" fill="#111" textLength="17.82" lengthAdjust="spacingAndGlyphs">Jag1</text>
<line x1="430.4" y1="252.0" x2="430.4" y2="329.3" stroke="#444" stroke-width="1.0"/>
<line x1="429.9" y1="329.3" x2="544" y2="329.3" stroke="#444" stroke-width="1.0"/>
<line x1="428.2" y1="326.20" x2="430.4" y2="326.20" stroke="#555" stroke-width="0.8"/>
<text x="427.09999999999997" y="328.30" text-anchor="end" font-family="Liberation Sans, sans-serif" font-weight="bold" font-size="6.0" fill="#1a1a1a" textLength="3.90" lengthAdjust="spacingAndGlyphs">0</text>
<line x1="428.2" y1="308.43" x2="430.4" y2="308.43" stroke="#555" stroke-width="0.8"/>
<text x="427.09999999999997" y="310.53" text-anchor="end" font-family="Liberation Sans, sans-serif" font-weight="bold" font-size="6.0" fill="#1a1a1a" textLength="3.90" lengthAdjust="spacingAndGlyphs">1</text>
<line x1="428.2" y1="290.66" x2="430.4" y2="290.66" stroke="#555" stroke-width="0.8"/>
<text x="427.09999999999997" y="292.76" text-anchor="end" font-family="Liberation Sans, sans-serif" font-weight="bold" font-size="6.0" fill="#1a1a1a" textLength="3.90" lengthAdjust="spacingAndGlyphs">2</text>
<line x1="428.2" y1="272.89" x2="430.4" y2="272.89" stroke="#555" stroke-width="0.8"/>
<text x="427.09999999999997" y="274.99" text-anchor="end" font-family="Liberation Sans, sans-serif" font-weight="bold" font-size="6.0" fill="#1a1a1a" textLength="3.90" lengthAdjust="spacingAndGlyphs">3</text>
<line x1="428.2" y1="255.12" x2="430.4" y2="255.12" stroke="#555" stroke-width="0.8"/>
<text x="427.09999999999997" y="257.22" text-anchor="end" font-family="Liberation Sans, sans-serif" font-weight="bold" font-size="6.0" fill="#1a1a1a" textLength="3.90" lengthAdjust="spacingAndGlyphs">4</text>
<line x1="461.4" y1="329.3" x2="461.4" y2="331.8" stroke="#333" stroke-width="0.9"/>
<text transform="translate(464.70,335.4) rotate(-45)" text-anchor="end" font-family="Liberation Sans, sans-serif" font-weight="bold" font-size="6.2" fill="#111">TSP2KO</text>
<line x1="513.1" y1="329.3" x2="513.1" y2="331.8" stroke="#333" stroke-width="0.9"/>
<text transform="translate(516.40,335.4) rotate(-45)" text-anchor="end" font-family="Liberation Sans, sans-serif" font-weight="bold" font-size="6.2" fill="#111">WT</text>
<text transform="translate(421.3,290.5) rotate(-90)" text-anchor="middle" font-family="Liberation Sans, sans-serif" font-weight="bold" font-size="7.6" fill="#111">Expression Level</text>
<path d="M461.41,255.30 461.41,255.65 461.41,256.00 461.41,256.35 461.41,256.70 461.41,257.05 461.42,257.40 461.42,257.75 461.42,258.10 461.42,258.45 461.43,258.80 461.43,259.15 461.43,259.50 461.44,259.85 461.44,260.20 461.46,260.55 461.48,260.90 461.51,261.25 461.55,261.60 461.59,261.95 461.64,262.30 461.68,262.65 461.74,263.00 461.79,263.35 461.84,263.70 461.89,264.05 461.94,264.40 461.99,264.75 462.03,265.10 462.07,265.45 462.10,265.80 462.13,266.15 462.17,266.50 462.20,266.85 462.24,267.20 462.29,267.55 462.35,267.90 462.42,268.25 462.53,268.60 462.67,268.95 462.84,269.30 463.02,269.65 463.21,270.00 463.40,270.35 463.60,270.70 463.78,271.05 463.95,271.40 464.11,271.75 464.28,272.10 464.44,272.45 464.61,272.80 464.78,273.15 464.94,273.50 465.10,273.85 465.27,274.20 465.42,274.55 465.58,274.90 465.73,275.25 465.89,275.60 466.04,275.95 466.19,276.30 466.33,276.65 466.48,277.00 466.62,277.35 466.76,277.70 466.90,278.05 467.03,278.40 467.15,278.75 467.28,279.10 467.40,279.45 467.52,279.80 467.65,280.15 467.77,280.50 467.90,280.85 468.04,281.20 468.17,281.55 468.31,281.90 468.45,282.25 468.59,282.60 468.73,282.95 468.88,283.30 469.04,283.65 469.20,284.00 469.38,284.35 469.57,284.70 469.78,285.05 470.00,285.40 470.21,285.75 470.43,286.10 470.64,286.45 470.84,286.80 471.03,287.15 471.19,287.50 471.36,287.85 471.52,288.20 471.67,288.55 471.82,288.90 471.96,289.25 472.09,289.60 472.22,289.95 472.34,290.30 472.45,290.65 472.55,291.00 472.66,291.35 472.76,291.70 472.86,292.05 472.95,292.40 473.03,292.75 473.10,293.10 473.16,293.45 473.20,293.80 473.23,294.15 473.27,294.50 473.30,294.85 473.33,295.20 473.35,295.55 473.37,295.90 473.39,296.25 473.40,296.60 473.40,296.95 473.39,297.30 473.36,297.65 473.32,298.00 473.25,298.35 473.17,298.70 473.08,299.05 472.98,299.40 472.88,299.75 472.77,300.10 472.60,300.45 472.39,300.80 472.13,301.15 471.83,301.50 471.51,301.85 471.17,302.20 470.82,302.55 470.48,302.90 470.15,303.25 469.82,303.60 469.47,303.95 469.10,304.30 468.73,304.65 468.35,305.00 467.97,305.35 467.60,305.70 467.24,306.05 466.89,306.40 466.57,306.75 466.23,307.10 465.90,307.45 465.57,307.80 465.25,308.15 464.94,308.50 464.65,308.85 464.39,309.20 464.15,309.55 463.94,309.90 463.75,310.25 463.57,310.60 463.40,310.95 463.24,311.30 463.09,311.65 462.96,312.00 462.83,312.35 462.72,312.70 462.61,313.05 462.52,313.40 462.42,313.75 462.32,314.10 462.23,314.45 462.15,314.80 462.09,315.15 462.04,315.50 462.02,315.85 462.02,316.20 462.04,316.55 462.08,316.90 462.13,317.25 462.22,317.60 462.41,317.95 462.68,318.30 463.02,318.65 463.44,319.00 464.18,319.35 465.25,319.70 466.48,320.05 467.75,320.40 469.01,320.75 470.40,321.10 471.87,321.45 473.36,321.80 474.80,322.15 476.21,322.50 477.67,322.85 479.07,323.20 480.33,323.55 481.38,323.90 482.35,324.25 483.21,324.60 483.83,324.95 484.16,325.30 484.30,325.60 L484.30,326.0 L438.50,326.0 L438.50,325.60 438.64,325.30 438.97,324.95 439.59,324.60 440.45,324.25 441.42,323.90 442.47,323.55 443.73,323.20 445.13,322.85 446.59,322.50 448.00,322.15 449.44,321.80 450.93,321.45 452.40,321.10 453.79,320.75 455.05,320.40 456.32,320.05 457.55,319.70 458.62,319.35 459.36,319.00 459.78,318.65 460.12,318.30 460.39,317.95 460.58,317.60 460.67,317.25 460.72,316.90 460.76,316.55 460.78,316.20 460.78,315.85 460.76,315.50 460.71,315.15 460.65,314.80 460.57,314.45 460.48,314.10 460.38,313.75 460.28,313.40 460.19,313.05 460.08,312.70 459.97,312.35 459.84,312.00 459.71,311.65 459.56,311.30 459.40,310.95 459.23,310.60 459.05,310.25 458.86,309.90 458.65,309.55 458.41,309.20 458.15,308.85 457.86,308.50 457.55,308.15 457.23,307.80 456.90,307.45 456.57,307.10 456.23,306.75 455.91,306.40 455.56,306.05 455.20,305.70 454.83,305.35 454.45,305.00 454.07,304.65 453.70,304.30 453.33,303.95 452.98,303.60 452.65,303.25 452.32,302.90 451.98,302.55 451.63,302.20 451.29,301.85 450.97,301.50 450.67,301.15 450.41,300.80 450.20,300.45 450.03,300.10 449.92,299.75 449.82,299.40 449.72,299.05 449.63,298.70 449.55,298.35 449.48,298.00 449.44,297.65 449.41,297.30 449.40,296.95 449.40,296.60 449.41,296.25 449.43,295.90 449.45,295.55 449.47,295.20 449.50,294.85 449.53,294.50 449.57,294.15 449.60,293.80 449.64,293.45 449.70,293.10 449.77,292.75 449.85,292.40 449.94,292.05 450.04,291.70 450.14,291.35 450.25,291.00 450.35,290.65 450.46,290.30 450.58,289.95 450.71,289.60 450.84,289.25 450.98,288.90 451.13,288.55 451.28,288.20 451.44,287.85 451.61,287.50 451.77,287.15 451.96,286.80 452.16,286.45 452.37,286.10 452.59,285.75 452.80,285.40 453.02,285.05 453.23,284.70 453.42,284.35 453.60,284.00 453.76,283.65 453.92,283.30 454.07,282.95 454.21,282.60 454.35,282.25 454.49,281.90 454.63,281.55 454.76,281.20 454.90,280.85 455.03,280.50 455.15,280.15 455.28,279.80 455.40,279.45 455.52,279.10 455.65,278.75 455.77,278.40 455.90,278.05 456.04,277.70 456.18,277.35 456.32,277.00 456.47,276.65 456.61,276.30 456.76,275.95 456.91,275.60 457.07,275.25 457.22,274.90 457.38,274.55 457.53,274.20 457.70,273.85 457.86,273.50 458.02,273.15 458.19,272.80 458.36,272.45 458.52,272.10 458.69,271.75 458.85,271.40 459.02,271.05 459.20,270.70 459.40,270.35 459.59,270.00 459.78,269.65 459.96,269.30 460.13,268.95 460.27,268.60 460.38,268.25 460.45,267.90 460.51,267.55 460.56,267.20 460.60,266.85 460.63,266.50 460.67,266.15 460.70,265.80 460.73,265.45 460.77,265.10 460.81,264.75 460.86,264.40 460.91,264.05 460.96,263.70 461.01,263.35 461.06,263.00 461.12,262.65 461.16,262.30 461.21,261.95 461.25,261.60 461.29,261.25 461.32,260.90 461.34,260.55 461.36,260.20 461.36,259.85 461.37,259.50 461.37,259.15 461.37,258.80 461.38,258.45 461.38,258.10 461.38,257.75 461.38,257.40 461.39,257.05 461.39,256.70 461.39,256.35 461.39,256.00 461.39,255.65 461.39,255.30 Z" fill="#b2232b" stroke="#333" stroke-width="0.6" stroke-linejoin="round"/>
<path d="M512.91,267.90 512.91,268.25 512.92,268.60 512.92,268.95 512.92,269.30 512.93,269.65 512.93,270.00 512.93,270.35 512.94,270.70 512.94,271.05 512.94,271.40 512.94,271.75 512.94,272.10 512.94,272.45 512.94,272.80 512.94,273.15 512.94,273.50 512.94,273.85 512.94,274.20 512.94,274.55 512.94,274.90 512.94,275.25 512.94,275.60 512.94,275.95 512.94,276.30 512.95,276.65 512.96,277.00 512.98,277.35 513.00,277.70 513.02,278.05 513.04,278.40 513.07,278.75 513.10,279.10 513.12,279.45 513.15,279.80 513.18,280.15 513.21,280.50 513.24,280.85 513.27,281.20 513.30,281.55 513.34,281.90 513.38,282.25 513.42,282.60 513.47,282.95 513.52,283.30 513.57,283.65 513.63,284.00 513.71,284.35 513.80,284.70 513.91,285.05 514.03,285.40 514.16,285.75 514.29,286.10 514.42,286.45 514.54,286.80 514.66,287.15 514.76,287.50 514.85,287.85 514.94,288.20 515.02,288.55 515.11,288.90 515.19,289.25 515.28,289.60 515.36,289.95 515.45,290.30 515.54,290.65 515.64,291.00 515.73,291.35 515.84,291.70 515.94,292.05 516.04,292.40 516.14,292.75 516.23,293.10 516.32,293.45 516.40,293.80 516.48,294.15 516.55,294.50 516.62,294.85 516.69,295.20 516.75,295.55 516.81,295.90 516.87,296.25 516.93,296.60 516.99,296.95 517.05,297.30 517.12,297.65 517.18,298.00 517.25,298.35 517.31,298.70 517.37,299.05 517.41,299.40 517.44,299.75 517.45,300.10 517.46,300.45 517.47,300.80 517.48,301.15 517.48,301.50 517.49,301.85 517.49,302.20 517.50,302.55 517.50,302.90 517.50,303.25 517.49,303.60 517.47,303.95 517.42,304.30 517.37,304.65 517.30,305.00 517.23,305.35 517.16,305.70 517.09,306.05 517.02,306.40 516.95,306.75 516.89,307.10 516.82,307.45 516.75,307.80 516.68,308.15 516.61,308.50 516.53,308.85 516.45,309.20 516.36,309.55 516.27,309.90 516.17,310.25 516.07,310.60 515.95,310.95 515.83,311.30 515.70,311.65 515.58,312.00 515.45,312.35 515.33,312.70 515.22,313.05 515.10,313.40 514.96,313.75 514.81,314.10 514.67,314.45 514.54,314.80 514.43,315.15 514.35,315.50 514.30,315.85 514.31,316.20 514.35,316.55 514.41,316.90 514.49,317.25 514.59,317.60 514.73,317.95 514.93,318.30 515.18,318.65 515.52,319.00 516.21,319.35 517.24,319.70 518.45,320.05 519.67,320.40 520.85,320.75 522.12,321.10 523.47,321.45 524.82,321.80 526.12,322.15 527.37,322.50 528.62,322.85 529.83,323.20 531.00,323.55 532.12,323.90 533.30,324.25 534.43,324.60 535.28,324.95 535.71,325.30 535.90,325.60 L535.90,326.0 L489.90,326.0 L489.90,325.60 490.09,325.30 490.52,324.95 491.37,324.60 492.50,324.25 493.68,323.90 494.80,323.55 495.97,323.20 497.18,322.85 498.43,322.50 499.68,322.15 500.98,321.80 502.33,321.45 503.68,321.10 504.95,320.75 506.13,320.40 507.35,320.05 508.56,319.70 509.59,319.35 510.28,319.00 510.62,318.65 510.87,318.30 511.07,317.95 511.21,317.60 511.31,317.25 511.39,316.90 511.45,316.55 511.49,316.20 511.50,315.85 511.45,315.50 511.37,315.15 511.26,314.80 511.13,314.45 510.99,314.10 510.84,313.75 510.70,313.40 510.58,313.05 510.47,312.70 510.35,312.35 510.22,312.00 510.10,311.65 509.97,311.30 509.85,310.95 509.73,310.60 509.63,310.25 509.53,309.90 509.44,309.55 509.35,309.20 509.27,308.85 509.19,308.50 509.12,308.15 509.05,307.80 508.98,307.45 508.91,307.10 508.85,306.75 508.78,306.40 508.71,306.05 508.64,305.70 508.57,305.35 508.50,305.00 508.43,304.65 508.38,304.30 508.33,303.95 508.31,303.60 508.30,303.25 508.30,302.90 508.30,302.55 508.31,302.20 508.31,301.85 508.32,301.50 508.32,301.15 508.33,300.80 508.34,300.45 508.35,300.10 508.36,299.75 508.39,299.40 508.43,299.05 508.49,298.70 508.55,298.35 508.62,298.00 508.68,297.65 508.75,297.30 508.81,296.95 508.87,296.60 508.93,296.25 508.99,295.90 509.05,295.55 509.11,295.20 509.18,294.85 509.25,294.50 509.32,294.15 509.40,293.80 509.48,293.45 509.57,293.10 509.66,292.75 509.76,292.40 509.86,292.05 509.96,291.70 510.07,291.35 510.16,291.00 510.26,290.65 510.35,290.30 510.44,289.95 510.52,289.60 510.61,289.25 510.69,288.90 510.78,288.55 510.86,288.20 510.95,287.85 511.04,287.50 511.14,287.15 511.26,286.80 511.38,286.45 511.51,286.10 511.64,285.75 511.77,285.40 511.89,285.05 512.00,284.70 512.09,284.35 512.17,284.00 512.23,283.65 512.28,283.30 512.33,282.95 512.38,282.60 512.42,282.25 512.46,281.90 512.50,281.55 512.53,281.20 512.56,280.85 512.59,280.50 512.62,280.15 512.65,279.80 512.68,279.45 512.70,279.10 512.73,278.75 512.76,278.40 512.78,278.05 512.80,277.70 512.82,277.35 512.84,277.00 512.85,276.65 512.86,276.30 512.86,275.95 512.86,275.60 512.86,275.25 512.86,274.90 512.86,274.55 512.86,274.20 512.86,273.85 512.86,273.50 512.86,273.15 512.86,272.80 512.86,272.45 512.86,272.10 512.86,271.75 512.86,271.40 512.86,271.05 512.86,270.70 512.87,270.35 512.87,270.00 512.87,269.65 512.88,269.30 512.88,268.95 512.88,268.60 512.89,268.25 512.89,267.90 Z" fill="#2166ac" stroke="#333" stroke-width="0.6" stroke-linejoin="round"/>
<text x="616.6" y="247.75" font-family="Liberation Sans, sans-serif" font-weight="bold" font-size="8.1" fill="#111" textLength="20.72" lengthAdjust="spacingAndGlyphs">Cdh2</text>
<line x1="570.5" y1="251.6" x2="570.5" y2="329.3" stroke="#444" stroke-width="1.0"/>
<line x1="570.0" y1="329.3" x2="684.3" y2="329.3" stroke="#444" stroke-width="1.0"/>
<line x1="568.3" y1="325.90" x2="570.5" y2="325.90" stroke="#555" stroke-width="0.8"/>
<text x="567.2" y="328.00" text-anchor="end" font-family="Liberation Sans, sans-serif" font-weight="bold" font-size="6.0" fill="#1a1a1a" textLength="3.90" lengthAdjust="spacingAndGlyphs">0</text>
<line x1="568.3" y1="310.35" x2="570.5" y2="310.35" stroke="#555" stroke-width="0.8"/>
<text x="567.2" y="312.45" text-anchor="end" font-family="Liberation Sans, sans-serif" font-weight="bold" font-size="6.0" fill="#1a1a1a" textLength="3.90" lengthAdjust="spacingAndGlyphs">1</text>
<line x1="568.3" y1="294.80" x2="570.5" y2="294.80" stroke="#555" stroke-width="0.8"/>
<text x="567.2" y="296.90" text-anchor="end" font-family="Liberation Sans, sans-serif" font-weight="bold" font-size="6.0" fill="#1a1a1a" textLength="3.90" lengthAdjust="spacingAndGlyphs">2</text>
<line x1="568.3" y1="279.25" x2="570.5" y2="279.25" stroke="#555" stroke-width="0.8"/>
<text x="567.2" y="281.35" text-anchor="end" font-family="Liberation Sans, sans-serif" font-weight="bold" font-size="6.0" fill="#1a1a1a" textLength="3.90" lengthAdjust="spacingAndGlyphs">3</text>
<line x1="568.3" y1="263.70" x2="570.5" y2="263.70" stroke="#555" stroke-width="0.8"/>
<text x="567.2" y="265.80" text-anchor="end" font-family="Liberation Sans, sans-serif" font-weight="bold" font-size="6.0" fill="#1a1a1a" textLength="3.90" lengthAdjust="spacingAndGlyphs">4</text>
<line x1="601.4" y1="329.3" x2="601.4" y2="331.8" stroke="#333" stroke-width="0.9"/>
<text transform="translate(604.70,335.4) rotate(-45)" text-anchor="end" font-family="Liberation Sans, sans-serif" font-weight="bold" font-size="6.2" fill="#111">TSP2KO</text>
<line x1="653.2" y1="329.3" x2="653.2" y2="331.8" stroke="#333" stroke-width="0.9"/>
<text transform="translate(656.50,335.4) rotate(-45)" text-anchor="end" font-family="Liberation Sans, sans-serif" font-weight="bold" font-size="6.2" fill="#111">WT</text>
<text transform="translate(561.7,290.5) rotate(-90)" text-anchor="middle" font-family="Liberation Sans, sans-serif" font-weight="bold" font-size="7.6" fill="#111">Expression Level</text>
<path d="M601.61,255.60 601.61,255.95 601.61,256.30 601.61,256.65 601.61,257.00 601.62,257.35 601.62,257.70 601.62,258.05 601.62,258.40 601.63,258.75 601.63,259.10 601.63,259.45 601.64,259.80 601.64,260.15 601.65,260.50 601.65,260.85 601.66,261.20 601.67,261.55 601.68,261.90 601.70,262.25 601.71,262.60 601.73,262.95 601.75,263.30 601.77,263.65 601.80,264.00 601.82,264.35 601.85,264.70 601.88,265.05 601.92,265.40 601.96,265.75 602.00,266.10 602.09,266.45 602.24,266.80 602.44,267.15 602.67,267.50 602.94,267.85 603.22,268.20 603.52,268.55 603.82,268.90 604.12,269.25 604.47,269.60 604.86,269.95 605.28,270.30 605.73,270.65 606.20,271.00 606.67,271.35 607.15,271.70 607.63,272.05 608.12,272.40 608.62,272.75 609.15,273.10 609.69,273.45 610.23,273.80 610.78,274.15 611.31,274.50 611.84,274.85 612.34,275.20 612.84,275.55 613.33,275.90 613.81,276.25 614.29,276.60 614.77,276.95 615.24,277.30 615.71,277.65 616.17,278.00 616.63,278.35 617.10,278.70 617.57,279.05 618.04,279.40 618.50,279.75 618.95,280.10 619.38,280.45 619.78,280.80 620.15,281.15 620.49,281.50 620.83,281.85 621.15,282.20 621.46,282.55 621.76,282.90 622.05,283.25 622.32,283.60 622.59,283.95 622.84,284.30 623.07,284.65 623.30,285.00 623.53,285.35 623.78,285.70 624.02,286.05 624.24,286.40 624.42,286.75 624.54,287.10 624.60,287.45 624.60,287.80 624.59,288.15 624.57,288.50 624.55,288.85 624.53,289.20 624.49,289.55 624.37,289.90 624.14,290.25 623.81,290.60 623.44,290.95 623.03,291.30 622.61,291.65 622.07,292.00 621.44,292.35 620.75,292.70 620.07,293.05 619.46,293.40 618.92,293.75 618.39,294.10 617.88,294.45 617.40,294.80 616.97,295.15 616.60,295.50 616.28,295.85 616.00,296.20 615.75,296.55 615.51,296.90 615.27,297.25 615.03,297.60 614.81,297.95 614.60,298.30 614.39,298.65 614.19,299.00 613.97,299.35 613.73,299.70 613.46,300.05 613.15,300.40 612.81,300.75 612.45,301.10 612.05,301.45 611.65,301.80 611.23,302.15 610.80,302.50 610.35,302.85 609.86,303.20 609.34,303.55 608.82,303.90 608.30,304.25 607.81,304.60 607.36,304.95 606.95,305.30 606.54,305.65 606.15,306.00 605.78,306.35 605.42,306.70 605.09,307.05 604.78,307.40 604.50,307.75 604.23,308.10 603.98,308.45 603.74,308.80 603.51,309.15 603.30,309.50 603.09,309.85 602.88,310.20 602.67,310.55 602.45,310.90 602.26,311.25 602.10,311.60 601.99,311.95 601.93,312.30 601.86,312.65 601.81,313.00 601.76,313.35 601.72,313.70 601.68,314.05 601.66,314.40 601.64,314.75 601.64,315.10 601.64,315.45 601.64,315.80 601.64,316.15 601.64,316.50 601.64,316.85 601.64,317.20 601.64,317.55 601.64,317.90 601.64,318.25 601.64,318.60 601.64,318.95 601.64,319.30 601.65,319.65 601.77,320.00 601.99,320.35 602.28,320.70 602.62,321.05 603.19,321.40 603.98,321.75 604.86,322.10 605.94,322.45 607.13,322.80 608.31,323.15 609.57,323.50 610.72,323.85 611.55,324.20 612.27,324.55 612.90,324.90 613.37,325.25 613.60,325.50 L613.60,326.0 L589.60,326.0 L589.60,325.50 589.83,325.25 590.30,324.90 590.93,324.55 591.65,324.20 592.48,323.85 593.63,323.50 594.89,323.15 596.07,322.80 597.26,322.45 598.34,322.10 599.22,321.75 600.01,321.40 600.58,321.05 600.92,320.70 601.21,320.35 601.43,320.00 601.55,319.65 601.56,319.30 601.56,318.95 601.56,318.60 601.56,318.25 601.56,317.90 601.56,317.55 601.56,317.20 601.56,316.85 601.56,316.50 601.56,316.15 601.56,315.80 601.56,315.45 601.56,315.10 601.56,314.75 601.54,314.40 601.52,314.05 601.48,313.70 601.44,313.35 601.39,313.00 601.34,312.65 601.27,312.30 601.21,311.95 601.10,311.60 600.94,311.25 600.75,310.90 600.53,310.55 600.32,310.20 600.11,309.85 599.90,309.50 599.69,309.15 599.46,308.80 599.22,308.45 598.97,308.10 598.70,307.75 598.42,307.40 598.11,307.05 597.78,306.70 597.42,306.35 597.05,306.00 596.66,305.65 596.25,305.30 595.84,304.95 595.39,304.60 594.90,304.25 594.38,303.90 593.86,303.55 593.34,303.20 592.85,302.85 592.40,302.50 591.97,302.15 591.55,301.80 591.15,301.45 590.75,301.10 590.39,300.75 590.05,300.40 589.74,300.05 589.47,299.70 589.23,299.35 589.01,299.00 588.81,298.65 588.60,298.30 588.39,297.95 588.17,297.60 587.93,297.25 587.69,296.90 587.45,296.55 587.20,296.20 586.92,295.85 586.60,295.50 586.23,295.15 585.80,294.80 585.32,294.45 584.81,294.10 584.28,293.75 583.74,293.40 583.13,293.05 582.45,292.70 581.76,292.35 581.13,292.00 580.59,291.65 580.17,291.30 579.76,290.95 579.39,290.60 579.06,290.25 578.83,289.90 578.71,289.55 578.67,289.20 578.65,288.85 578.63,288.50 578.61,288.15 578.60,287.80 578.60,287.45 578.66,287.10 578.78,286.75 578.96,286.40 579.18,286.05 579.42,285.70 579.67,285.35 579.90,285.00 580.13,284.65 580.36,284.30 580.61,283.95 580.88,283.60 581.15,283.25 581.44,282.90 581.74,282.55 582.05,282.20 582.37,281.85 582.71,281.50 583.05,281.15 583.42,280.80 583.82,280.45 584.25,280.10 584.70,279.75 585.16,279.40 585.63,279.05 586.10,278.70 586.57,278.35 587.03,278.00 587.49,277.65 587.96,277.30 588.43,276.95 588.91,276.60 589.39,276.25 589.87,275.90 590.36,275.55 590.86,275.20 591.36,274.85 591.89,274.50 592.42,274.15 592.97,273.80 593.51,273.45 594.05,273.10 594.58,272.75 595.08,272.40 595.57,272.05 596.05,271.70 596.53,271.35 597.00,271.00 597.47,270.65 597.92,270.30 598.34,269.95 598.73,269.60 599.08,269.25 599.38,268.90 599.68,268.55 599.98,268.20 600.26,267.85 600.53,267.50 600.76,267.15 600.96,266.80 601.11,266.45 601.20,266.10 601.24,265.75 601.28,265.40 601.32,265.05 601.35,264.70 601.38,264.35 601.40,264.00 601.43,263.65 601.45,263.30 601.47,262.95 601.49,262.60 601.50,262.25 601.52,261.90 601.53,261.55 601.54,261.20 601.55,260.85 601.55,260.50 601.56,260.15 601.56,259.80 601.57,259.45 601.57,259.10 601.57,258.75 601.58,258.40 601.58,258.05 601.58,257.70 601.58,257.35 601.59,257.00 601.59,256.65 601.59,256.30 601.59,255.95 601.59,255.60 Z" fill="#b2232b" stroke="#333" stroke-width="0.6" stroke-linejoin="round"/>
<path d="M653.41,255.60 653.41,255.95 653.41,256.30 653.41,256.65 653.41,257.00 653.42,257.35 653.42,257.70 653.42,258.05 653.42,258.40 653.43,258.75 653.43,259.10 653.43,259.45 653.44,259.80 653.44,260.15 653.45,260.50 653.45,260.85 653.46,261.20 653.47,261.55 653.47,261.90 653.48,262.25 653.49,262.60 653.50,262.95 653.52,263.30 653.53,263.65 653.55,264.00 653.56,264.35 653.58,264.70 653.60,265.05 653.63,265.40 653.65,265.75 653.68,266.10 653.72,266.45 653.80,266.80 653.90,267.15 654.01,267.50 654.14,267.85 654.27,268.20 654.42,268.55 654.56,268.90 654.71,269.25 654.87,269.60 655.05,269.95 655.24,270.30 655.44,270.65 655.66,271.00 655.89,271.35 656.12,271.70 656.36,272.05 656.62,272.40 656.90,272.75 657.20,273.10 657.52,273.45 657.85,273.80 658.18,274.15 658.52,274.50 658.86,274.85 659.19,275.20 659.53,275.55 659.87,275.90 660.21,276.25 660.56,276.60 660.92,276.95 661.27,277.30 661.63,277.65 662.00,278.00 662.36,278.35 662.74,278.70 663.13,279.05 663.52,279.40 663.91,279.75 664.30,280.10 664.69,280.45 665.07,280.80 665.45,281.15 665.81,281.50 666.18,281.85 666.54,282.20 666.91,282.55 667.26,282.90 667.62,283.25 667.97,283.60 668.31,283.95 668.65,284.30 668.98,284.65 669.30,285.00 669.62,285.35 669.94,285.70 670.26,286.05 670.57,286.40 670.87,286.75 671.16,287.10 671.43,287.45 671.67,287.80 671.89,288.15 672.12,288.50 672.33,288.85 672.53,289.20 672.68,289.55 672.78,289.90 672.83,290.25 672.88,290.60 672.92,290.95 672.95,291.30 672.97,291.65 672.99,292.00 673.00,292.35 673.00,292.70 672.99,293.05 672.99,293.40 672.97,293.75 672.96,294.10 672.94,294.45 672.91,294.80 672.88,295.15 672.80,295.50 672.67,295.85 672.50,296.20 672.30,296.55 672.08,296.90 671.86,297.25 671.64,297.60 671.38,297.95 671.10,298.30 670.79,298.65 670.45,299.00 670.09,299.35 669.72,299.70 669.35,300.05 668.94,300.40 668.51,300.75 668.05,301.10 667.57,301.45 667.08,301.80 666.59,302.15 666.10,302.50 665.59,302.85 665.06,303.20 664.52,303.55 663.97,303.90 663.44,304.25 662.93,304.60 662.46,304.95 662.03,305.30 661.62,305.65 661.23,306.00 660.86,306.35 660.49,306.70 660.14,307.05 659.80,307.40 659.46,307.75 659.12,308.10 658.79,308.45 658.48,308.80 658.17,309.15 657.88,309.50 657.61,309.85 657.36,310.20 657.12,310.55 656.89,310.90 656.68,311.25 656.47,311.60 656.28,311.95 656.10,312.30 655.93,312.65 655.75,313.00 655.58,313.35 655.42,313.70 655.27,314.05 655.15,314.40 655.05,314.75 654.98,315.10 654.93,315.45 654.88,315.80 654.85,316.15 654.82,316.50 654.80,316.85 654.81,317.20 654.88,317.55 654.98,317.90 655.12,318.25 655.37,318.60 655.77,318.95 656.29,319.30 656.91,319.65 657.60,320.00 658.53,320.35 659.82,320.70 661.33,321.05 662.95,321.40 664.54,321.75 666.01,322.10 667.55,322.45 669.15,322.80 670.72,323.15 672.14,323.50 673.31,323.85 674.17,324.20 674.92,324.55 675.57,324.90 676.06,325.25 676.30,325.50 L676.30,326.0 L630.50,326.0 L630.50,325.50 630.74,325.25 631.23,324.90 631.88,324.55 632.63,324.20 633.49,323.85 634.66,323.50 636.08,323.15 637.65,322.80 639.25,322.45 640.79,322.10 642.26,321.75 643.85,321.40 645.47,321.05 646.98,320.70 648.27,320.35 649.20,320.00 649.89,319.65 650.51,319.30 651.03,318.95 651.43,318.60 651.68,318.25 651.82,317.90 651.92,317.55 651.99,317.20 652.00,316.85 651.98,316.50 651.95,316.15 651.92,315.80 651.87,315.45 651.82,315.10 651.75,314.75 651.65,314.40 651.53,314.05 651.38,313.70 651.22,313.35 651.05,313.00 650.87,312.65 650.70,312.30 650.52,311.95 650.33,311.60 650.12,311.25 649.91,310.90 649.68,310.55 649.44,310.20 649.19,309.85 648.92,309.50 648.63,309.15 648.32,308.80 648.01,308.45 647.68,308.10 647.34,307.75 647.00,307.40 646.66,307.05 646.31,306.70 645.94,306.35 645.57,306.00 645.18,305.65 644.77,305.30 644.34,304.95 643.87,304.60 643.36,304.25 642.83,303.90 642.28,303.55 641.74,303.20 641.21,302.85 640.70,302.50 640.21,302.15 639.72,301.80 639.23,301.45 638.75,301.10 638.29,300.75 637.86,300.40 637.45,300.05 637.08,299.70 636.71,299.35 636.35,299.00 636.01,298.65 635.70,298.30 635.42,297.95 635.16,297.60 634.94,297.25 634.72,296.90 634.50,296.55 634.30,296.20 634.13,295.85 634.00,295.50 633.92,295.15 633.89,294.80 633.86,294.45 633.84,294.10 633.83,293.75 633.81,293.40 633.81,293.05 633.80,292.70 633.80,292.35 633.81,292.00 633.83,291.65 633.85,291.30 633.88,290.95 633.92,290.60 633.97,290.25 634.02,289.90 634.12,289.55 634.27,289.20 634.47,288.85 634.68,288.50 634.91,288.15 635.13,287.80 635.37,287.45 635.64,287.10 635.93,286.75 636.23,286.40 636.54,286.05 636.86,285.70 637.18,285.35 637.50,285.00 637.82,284.65 638.15,284.30 638.49,283.95 638.83,283.60 639.18,283.25 639.54,282.90 639.89,282.55 640.26,282.20 640.62,281.85 640.99,281.50 641.35,281.15 641.73,280.80 642.11,280.45 642.50,280.10 642.89,279.75 643.28,279.40 643.67,279.05 644.06,278.70 644.44,278.35 644.80,278.00 645.17,277.65 645.53,277.30 645.88,276.95 646.24,276.60 646.59,276.25 646.93,275.90 647.27,275.55 647.61,275.20 647.94,274.85 648.28,274.50 648.62,274.15 648.95,273.80 649.28,273.45 649.60,273.10 649.90,272.75 650.18,272.40 650.44,272.05 650.68,271.70 650.91,271.35 651.14,271.00 651.36,270.65 651.56,270.30 651.75,269.95 651.93,269.60 652.09,269.25 652.24,268.90 652.38,268.55 652.53,268.20 652.66,267.85 652.79,267.50 652.90,267.15 653.00,266.80 653.08,266.45 653.12,266.10 653.15,265.75 653.17,265.40 653.20,265.05 653.22,264.70 653.24,264.35 653.25,264.00 653.27,263.65 653.28,263.30 653.30,262.95 653.31,262.60 653.32,262.25 653.33,261.90 653.33,261.55 653.34,261.20 653.35,260.85 653.35,260.50 653.36,260.15 653.36,259.80 653.37,259.45 653.37,259.10 653.37,258.75 653.38,258.40 653.38,258.05 653.38,257.70 653.38,257.35 653.39,257.00 653.39,256.65 653.39,256.30 653.39,255.95 653.39,255.60 Z" fill="#2166ac" stroke="#333" stroke-width="0.6" stroke-linejoin="round"/>
</svg></body></html>
